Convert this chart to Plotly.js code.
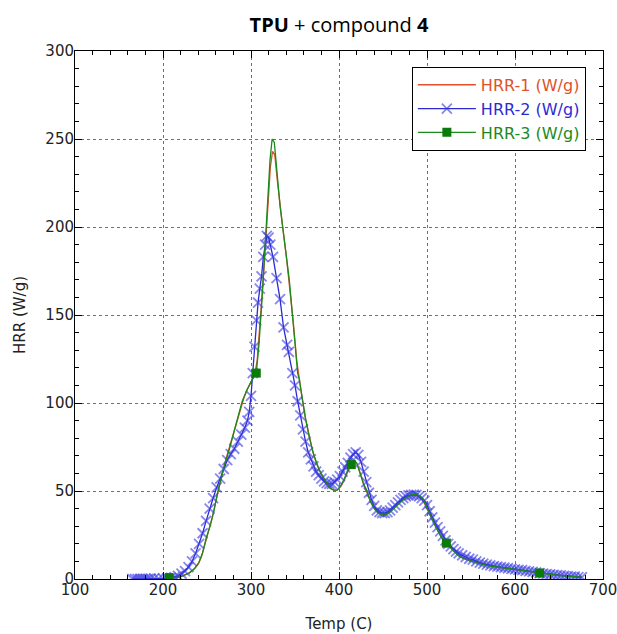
<!DOCTYPE html>
<html>
<head>
<meta charset="utf-8">
<script src="https://cdn.plot.ly/plotly-3.0.1.min.js"></script>
<style>html,body{margin:0;padding:0;background:#fff;}#chart{width:617px;height:634px;}</style>
</head>
<body>
<div id="chart"></div>
<script>
// HRR-1 (red)
const redT = [205,210,215,220,225,230,235,240,244,248,252,256,260,264,268,272,276,280,284,288,292,296,300,304,307,310,313,316,318,320,322,324.5,327,330,333,336,340,344,348,352,355,358,362,366,370,374,378,382,386,390,394,398,402,406,410,414,417,420,423,426,429,432,436,440,444,448,452,456,460,464,468,472,476,480,484,488,492,496,500,504,508,512,516,520,524,528,532,536,540,545,550,556,562,570,580,590,600,610,620,630,640,650,660,670,675];
const redY = [0.5,0.6,0.8,1.2,2.5,3.5,5.5,8.5,13,20,28,35,44,53,61,69,76,83,90,97,103,108,112,116,124,142,164,186,203,220,234,243,241,226,212,200,184,166,146,124,113,103,91,81,73,66,61,57,53.5,51.5,50.5,50.5,52.5,56,61,65,67,66,62,57,52,49,44,40.5,38,36.8,36.5,37.5,39.5,41.5,43,45,46.5,47.5,48,47.5,46.5,44,40,36,31.5,27.5,24,21,19,17,15,13.5,12.3,11.2,10.4,9.6,8.7,7.7,6.8,6,5.2,4.5,3.9,3.3,2.7,2.1,1.6,1.2,1];

// HRR-2 (blue)
const blueT = [165,168,171,174,177,180,183,186,190,195,200,205,209,213,217,221,225,229,233,237,241,245,249,253,257,261,265,269,273,277,281,285,289,293,296,298,300,302,304,306,308,310,312,314,316,318,320,322,325,329,333,337,341,343,347,350,353,356,359,362,365,368,371,374,377,380,383,386,389,392,395,398,401,404,407,410,413,416,419,422,425,428,431,434,437,440,443,446,449,452,455,458,461,464,467,470,473,476,479,482,485,488,491,494,497,500,503,506,509,512,515,518,521,524,527,530,533,536,540,544,548,552,556,560,564,568,572,576,580,584,588,592,596,600,604,608,612,616,620,624,628,632,636,640,644,648,652,656,660,664,668,672,676];
const blueY = [0,0,0,0,0,0,0,0.2,0.3,0.2,0.3,0.4,0.6,1,1.8,3,4.5,6.8,10,14.5,20,26,33,40,46,52,57,62.5,67.5,71,74,78,82,86,90,95,104,117,132,147,157,165,172,183,190,195,194,190,183,171,159,143,133,129,117,110,101,93,85,78,72,68,64,61,59,57,55.5,54.5,54,54,55,56.5,58.5,61,63.5,66,69,71,72,70.5,66.5,61,55,49,45,41.5,39,38,37.5,37.5,38,39,40.5,42,43.5,45,46,47,47.5,47.8,48,47.8,47,46,44.5,42,38.5,35,32,29.5,27,24.5,22,20,18.5,17,15.5,14.5,13.5,12.5,11.5,11,10,9.3,8.7,8.2,7.8,7.3,7,6.7,6.4,6.1,5.8,5.5,5.2,5,4.6,4.3,4,3.7,3.4,3.1,2.8,2.6,2.4,2.2,2,1.8,1.6,1.4,1.3,1.1,1];

// HRR-3 (green)
const greenT = [207,213,218,224,230,236,241,245,249,254,258,262,266,270,275,280,285,290,295,300,306,309,312,315,317,319,321.6,324,326.5,330,333,336,340,343.5,348,353,355,358,362,366,371,377.6,383,389,394,398,402,406,410,414,417,420,424,428,431,435,440,444,449,453,458,463,468.5,474,479,483,488,492,495,500,506,510,516,522,528,533,537,542,548,552,560,570,580,590,600,610,620,628,640,650,660,670,676];
const greenY = [0.8,0.8,1,2,3.5,6,9.5,15,23,31,39,49,57,65,73,82,91,101,107,112,117,133,155,178,196,215,238,250,248,227,212,200,185,170,145,117,113,103,91,81,71,62,57,52,50.5,50.5,53,57,62,65,67.5,66,60,54,51,45,40,37.5,36.5,36.4,38,40.5,43,45.5,47,48,48,47,46,40.5,33.5,29.5,24,20.4,17,14.5,12.7,11.5,10.5,10,8.8,7.5,6.8,6,5.2,4.5,3.9,3.4,2.6,2,1.6,1.2,1];
const greenMarkT = [207,306,414,522,628];
const greenMarkY = [0.8,117,65,20.4,3.4];

const names = ['HRR-1 (W/g)','HRR-2 (W/g)','HRR-3 (W/g)'];
const colors = ['#e0512a','#2b2bd2','#1a8a1a'];

const font = 'DejaVu Sans, Liberation Sans, Arial, sans-serif';
const lab = (i) => '<span style="color:' + colors[i] + '">' + names[i] + '</span>';

const traces = [
  {x: redT, y: redY, mode: 'lines', name: lab(0), line: {color: colors[0], width: 1.3}},
  {x: blueT, y: blueY, mode: 'lines+markers', name: lab(1), line: {color: colors[1], width: 1.3},
   marker: {symbol: 'x-thin', size: 10, color: 'rgba(55,55,225,0.6)', line: {width: 1.8, color: 'rgba(55,55,225,0.6)'}}},
  {x: greenT, y: greenY, mode: 'lines', showlegend: false, line: {color: colors[2], width: 1.3}},
  {x: greenMarkT, y: greenMarkY, mode: 'markers', showlegend: false, marker: {symbol: 'square', size: 9, color: '#0a7a0a'}},
  {x: [null], y: [null], mode: 'lines+markers', name: lab(2), line: {color: colors[2], width: 1.3},
   marker: {symbol: 'square', size: 9, color: '#0a7a0a'}}
];

const axisBase = {
  ticks: 'inside', ticklen: 7, tickwidth: 1, tickcolor: '#000',
  showline: true, linecolor: '#000', linewidth: 1, mirror: 'allticks',
  showgrid: true, gridcolor: '#707070', griddash: 'dot', gridwidth: 1,
  zeroline: false, tickfont: {family: font, size: 15, color: '#222'},
  ticklabeloverflow: 'allow', ticklabelstandoff: -3
};

const layout = {
  width: 617, height: 634,
  margin: {l: 75, r: 14, t: 51, b: 55},
  paper_bgcolor: '#fff', plot_bgcolor: '#fff',
  title: {text: '<b>TPU</b> + compound <b>4</b>', font: {family: 'Open Sans, sans-serif', size: 20, color: '#000'},
          xref: 'paper', x: 0.5, xanchor: 'center', yref: 'container', y: 0.96, yanchor: 'middle'},
  xaxis: Object.assign({}, axisBase, {
    range: [100, 700], tick0: 100, dtick: 100,
    minor: {dtick: 20, ticks: 'inside', ticklen: 4, tickcolor: '#000', showgrid: false},
    title: {text: 'Temp (C)', font: {family: font, size: 15, color: '#222'}, standoff: 20}
  }),
  yaxis: Object.assign({}, axisBase, {
    range: [0, 300], tick0: 0, dtick: 50,
    minor: {dtick: 10, ticks: 'inside', ticklen: 4, tickcolor: '#000', showgrid: false},
    title: {text: 'HRR (W/g)', font: {family: font, size: 15, color: '#222'}, standoff: 16}
  }),
  legend: {x: 0.638, y: 0.97, xanchor: 'left', yanchor: 'top', bgcolor: '#fff',
           bordercolor: '#000', borderwidth: 1, font: {family: font, size: 16}, itemwidth: 58, tracegroupgap: 0},
  showlegend: true
};

Plotly.newPlot('chart', traces, layout, {displayModeBar: false, staticPlot: true});
</script>
</body>
</html>
